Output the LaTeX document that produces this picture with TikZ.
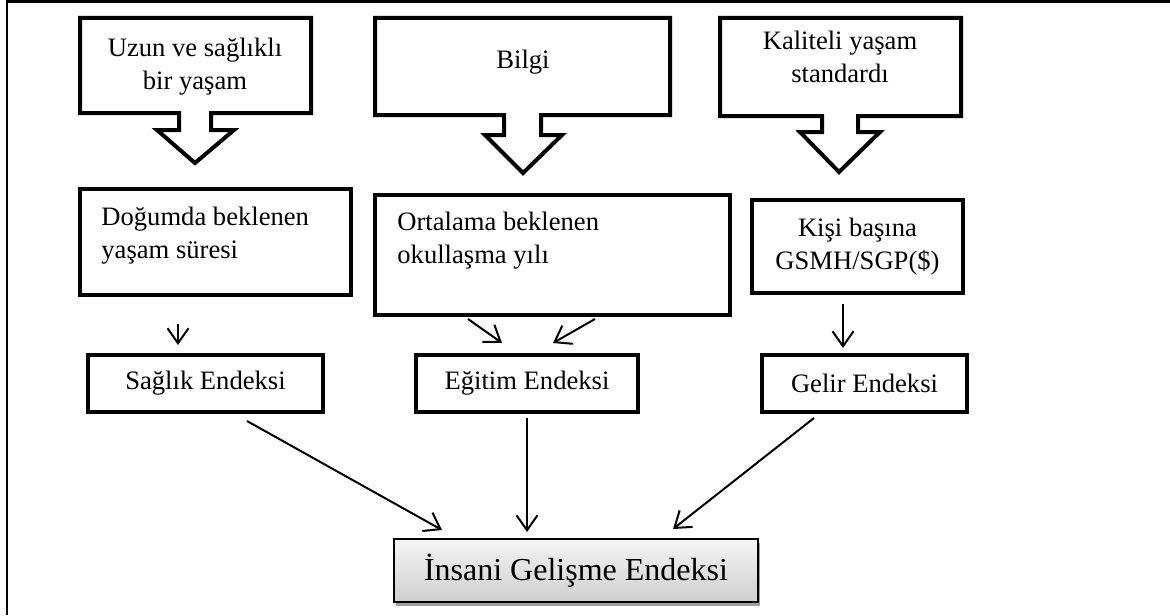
\documentclass[tikz,border=0pt]{standalone}
\usepackage{fontspec}
\setmainfont{Liberation Serif}
\usetikzlibrary{arrows.meta,calc,shadows}
\begin{document}
\begin{tikzpicture}[x=0.5pt,y=-0.5pt,
  callout/.style={line width=2pt, line join=miter},
  box/.style={draw, line width=2pt, inner sep=0pt},
  txt/.style={font=\fontsize{13.3}{16.5}\selectfont, inner sep=0pt},
  arr/.style={line width=1pt, -{Straight Barb[length=7.5pt,width=10.5pt]}},
]
\useasboundingbox (0,0) rectangle (1170,615);
% frame
\draw[line width=1pt] (7,615) -- (7,2);
\draw[line width=1.5pt] (6,1.5) -- (1170,1.5);
% callouts
\draw[callout] (80,18) -- (311,18) -- (311,113) -- (211,113) -- (211,130) -- (234,130) -- (195,163) -- (157,130) -- (179,130) -- (179,113) -- (80,113) -- cycle;
\draw[callout] (375,18) -- (670,18) -- (670,115) -- (541,115) -- (541,135) -- (562,135) -- (523,173) -- (485,135) -- (504,135) -- (504,115) -- (375,115) -- cycle;
\draw[callout] (720,18) -- (961,18) -- (961,116) -- (858,116) -- (858,132) -- (880,132) -- (839,172) -- (800,132) -- (822,132) -- (822,116) -- (720,116) -- cycle;
\node[txt, align=center] (t1) at (195,67) {Uzun ve sağlıklı\\bir yaşam};
\node[txt] (t2) at (523,62) {Bilgi};
\node[txt, align=center] (t3) at (840,57) {Kaliteli yaşam\\standardı};
% middle boxes
\node[box, minimum width=135.5pt, minimum height=53pt] (dog) at (215.5,242) {};
\node[txt, align=left, anchor=north west] (dogt) at (101,207) {Doğumda beklenen\\yaşam süresi};
\node[box, minimum width=177.5pt, minimum height=60pt] (ort) at (552.5,255) {};
\node[txt, align=left, anchor=north west] (ortt) at (397,212) {Ortalama beklenen\\okullaşma yılı};
\node[box, txt, align=center, minimum width=105.5pt, minimum height=46.5pt] (kis) at (857.5,246.5) {Kişi başına\\GSMH/SGP(\$)};
% index boxes
\node[box, txt, minimum width=117.5pt, minimum height=28.5pt] (sag) at (205.5,383.5) {Sağlık Endeksi};
\node[box, txt, minimum width=111pt, minimum height=28.5pt] (egi) at (527,383.5) {Eğitim Endeksi};
\node[box, txt, minimum width=102.5pt, minimum height=28.5pt] (gel) at (864.5,383.5) {Gelir Endeksi};
% bottom box
\node[draw, line width=1pt, top color=gray!8, bottom color=gray!38,
      drop shadow={shadow xshift=1pt, shadow yshift=-2.2pt, fill=gray!75, opacity=1},
      minimum width=182pt, minimum height=31.5pt, inner sep=0pt,
      font=\fontsize{16}{19}\selectfont] (ied) at (576,570.5) {İnsani Gelişme Endeksi};
% arrows
\draw[arr] ($(dog.south)+(-37.5,27)$) -- ($(sag.north)+(-27.5,-8)$);
\draw[arr] ($(ort.south)+(-84.5,2)$) -- ($(egi.north)+(-25,-10)$);
\draw[arr] ($(ort.south)+(42.5,2)$) -- ($(egi.north)+(26,-10)$);
\draw[arr] ($(kis.south)+(-14.5,9)$) -- ($(gel.north)+(-21.5,-5)$);
\draw[arr] ($(sag.south)+(41.5,7)$) -- ($(ied.north)+(-134,-8)$);
\draw[arr] ($(egi.south)+(0,4)$) -- ($(ied.north)+(-49,-6)$);
\draw[arr] ($(gel.south)+(-50.5,4)$) -- ($(ied.north)+(97,-9)$);
\end{tikzpicture}
\end{document}
